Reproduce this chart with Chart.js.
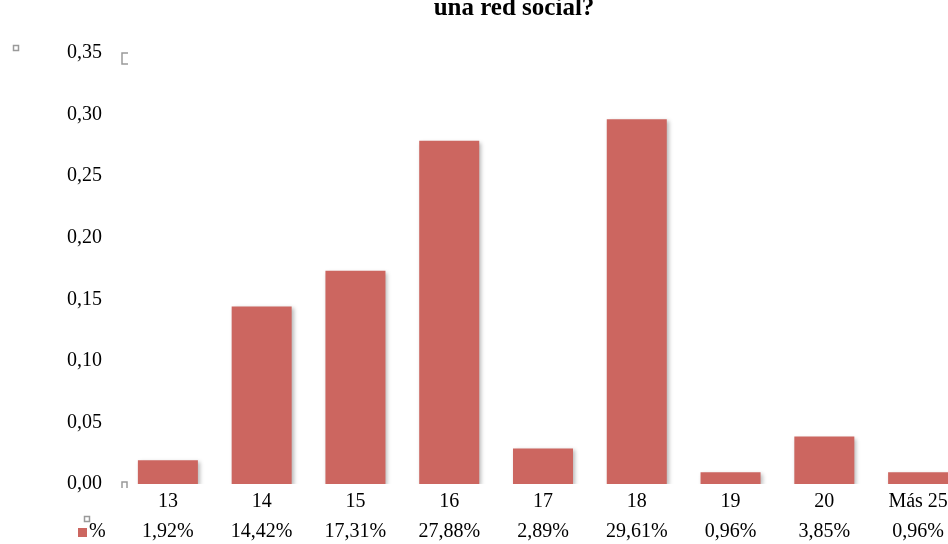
<!DOCTYPE html>
<html>
<head>
<meta charset="utf-8">
<script src="https://cdn.jsdelivr.net/npm/chart.js@4"></script>
<style>
  html, body { margin: 0; padding: 0; background: #fff; overflow: hidden; }
  #wrap { width: 965px; height: 544px; }
</style>
</head>
<body>
<div id="wrap"><canvas id="edadChart" width="965" height="544"></canvas></div>
<script>
// Edad de creación del primer perfil
const categorias = ['13', '14', '15', '16', '17', '18', '19', '20', 'Más 25'];
const porcentajes = [0.0192, 0.1442, 0.1731, 0.2788, 0.0289, 0.2961, 0.0096, 0.0385, 0.0096];
const serieNombre = '%';
const tituloLinea = 'una red social?';

const FUENTE = '"Liberation Serif", "DejaVu Serif", serif';
const COLOR_BARRA = '#cc6660';

const fmtEje = v => v.toFixed(2).replace('.', ',');
const fmtTabla = v => (v * 100).toFixed(2).replace('.', ',') + '%';

// sombra suave bajo las barras
const sombraBarras = {
    id: 'sombraBarras',
    beforeDatasetsDraw(chart) {
        const ctx = chart.ctx;
        ctx.save();
        ctx.shadowColor = 'rgba(0,0,0,0.28)';
        ctx.shadowBlur = 4;
        ctx.shadowOffsetX = 2;
        ctx.shadowOffsetY = 2;
    },
    afterDatasetsDraw(chart) {
        chart.ctx.restore();
    }
};

// título recortado + tabla de datos bajo el eje X
const extras = {
    id: 'extras',
    afterDraw(chart) {
        const ctx = chart.ctx;
        const x = chart.scales.x;
        ctx.save();
        ctx.fillStyle = '#000';
        ctx.font = 'bold 25px ' + FUENTE;
        ctx.textAlign = 'center';
        ctx.textBaseline = 'alphabetic';
        ctx.fillText(tituloLinea, 514, 15);

        ctx.font = '20px ' + FUENTE;
        ctx.textBaseline = 'middle';
        porcentajes.forEach((v, i) => {
            ctx.fillText(fmtTabla(v), x.getPixelForValue(i), 532);
        });
        // clave de la serie
        ctx.fillStyle = COLOR_BARRA;
        ctx.fillRect(78, 528, 9, 9);
        ctx.fillStyle = '#000';
        ctx.textAlign = 'left';
        ctx.fillText(serieNombre, 89, 532);

        // marcadores grises de selección
        ctx.strokeStyle = '#9a9a9a';
        ctx.lineWidth = 1.5;
        ctx.strokeRect(13.5, 45.5, 5, 5);
        ctx.strokeRect(84.5, 516.5, 5, 5);
        ctx.beginPath();
        ctx.moveTo(128, 53); ctx.lineTo(122, 53); ctx.lineTo(122, 64); ctx.lineTo(128, 64);
        ctx.moveTo(122, 488); ctx.lineTo(122, 482); ctx.lineTo(127, 482); ctx.lineTo(127, 488);
        ctx.stroke();
        ctx.restore();
    }
};

new Chart(document.getElementById('edadChart'), {
    type: 'bar',
    data: {
        labels: categorias,
        datasets: [{
            label: serieNombre,
            data: porcentajes,
            backgroundColor: COLOR_BARRA,
            borderWidth: 0,
            categoryPercentage: 1,
            barPercentage: 0.64
        }]
    },
    options: {
        responsive: false,
        animation: false,
        layout: { padding: { top: 53, right: 0, left: 0, bottom: 0 } },
        plugins: {
            legend: { display: false },
            tooltip: { enabled: false }
        },
        scales: {
            x: {
                grid: { display: false, drawTicks: false },
                border: { display: false },
                ticks: { color: '#000', font: { family: FUENTE, size: 20 }, padding: 6 },
                afterFit(scale) { scale.height = 60; }
            },
            y: {
                min: 0,
                max: 0.35,
                grid: { display: false, drawTicks: false },
                border: { display: false },
                ticks: {
                    stepSize: 0.05,
                    color: '#000',
                    font: { family: FUENTE, size: 20 },
                    padding: 19,
                    callback: v => fmtEje(v)
                },
                afterFit(scale) { scale.width = 121; }
            }
        }
    },
    plugins: [sombraBarras, extras]
});
</script>
</body>
</html>
